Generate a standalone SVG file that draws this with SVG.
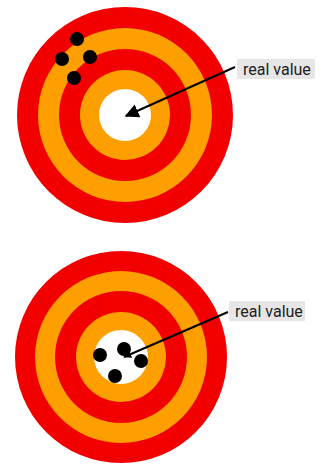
<svg xmlns="http://www.w3.org/2000/svg" width="325" height="464" viewBox="0 0 325 464">
<style>
.red{fill:#f20000}
.org{fill:#fd9f00}
.wht{fill:#ffffff}
.dot{fill:#000000}
.lbl{fill:#e6e6e6}
.txt{font-family:Roboto,"Liberation Sans",sans-serif;font-size:16px;fill:#222222}
.ln{stroke:#000000;stroke-width:2;fill:none}
</style>
<defs>
<marker id="ah" viewBox="0 0 10 10" refX="9" refY="5" markerWidth="7" markerHeight="7" orient="auto" markerUnits="strokeWidth">
<path d="M0,0 L10,5 L0,10 z" fill="#000000"/>
</marker>
<marker id="ah2" viewBox="0 0 10 10" refX="9" refY="5" markerWidth="4" markerHeight="4" orient="auto" markerUnits="strokeWidth">
<path d="M0,0 L10,5 L0,10 z" fill="#000000"/>
</marker>
</defs>
<rect width="325" height="464" fill="#ffffff"/>
<g id="target-top">
<circle cx="125" cy="115" r="108" class="red"/>
<circle cx="125" cy="115" r="87" class="org"/>
<circle cx="125" cy="115" r="66" class="red"/>
<circle cx="125" cy="115" r="45" class="org"/>
<circle cx="125" cy="115" r="26" class="wht"/>
<circle cx="77" cy="39" r="7" class="dot"/>
<circle cx="62" cy="59" r="7" class="dot"/>
<circle cx="90" cy="57" r="7" class="dot"/>
<circle cx="74" cy="78" r="7" class="dot"/>
</g>
<g id="label-top">
<rect x="237" y="59" width="78" height="20" class="lbl"/>
<text x="243" y="74.5" class="txt">real value</text>
</g>
<g id="target-bottom">
<circle cx="121" cy="357" r="106" class="red"/>
<circle cx="121" cy="357" r="86" class="org"/>
<circle cx="121" cy="357" r="66" class="red"/>
<circle cx="121" cy="357" r="45" class="org"/>
<circle cx="121" cy="357" r="27" class="wht"/>
<circle cx="100" cy="355" r="7" class="dot"/>
<circle cx="124" cy="349" r="7" class="dot"/>
<circle cx="141" cy="361" r="7" class="dot"/>
<circle cx="115" cy="376" r="7" class="dot"/>
</g>
<g id="label-bottom">
<rect x="229" y="301" width="76" height="20" class="lbl"/>
<text x="235" y="316.5" class="txt">real value</text>
</g>
<g id="connectors">
<line x1="235" y1="67" x2="126" y2="116" class="ln" marker-end="url(#ah)"/>
<line x1="228" y1="312" x2="124" y2="357" class="ln" marker-end="url(#ah2)"/>
</g>
</svg>
